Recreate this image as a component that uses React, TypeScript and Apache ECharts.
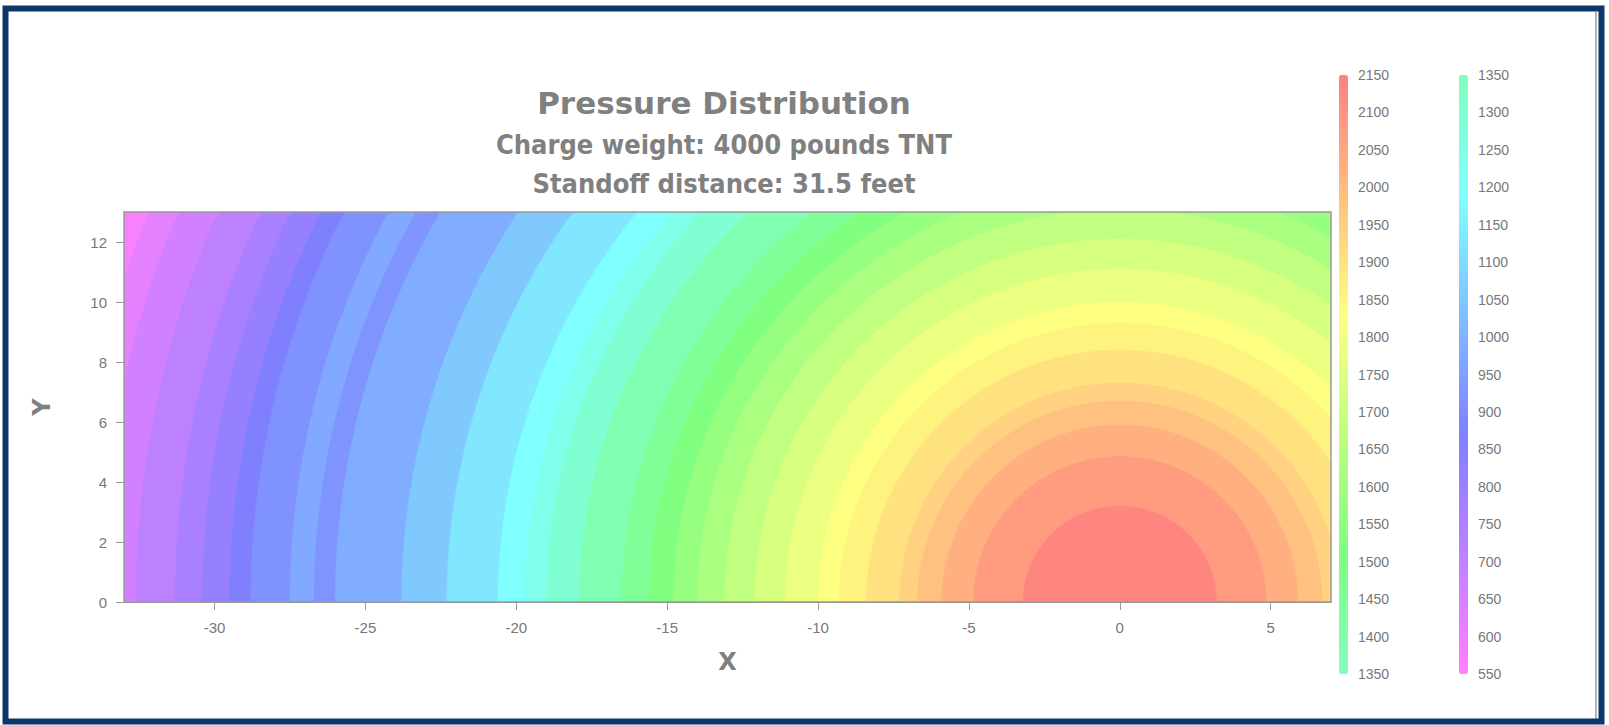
import React, { useEffect, useRef } from "react";
import * as echarts from "echarts";

// ---- data ----
const xRange = [-33, 7];
const yRange = [0, 13];
const xTicks = [-30, -25, -20, -15, -10, -5, 0, 5];
const yTicks = [0, 2, 4, 6, 8, 10, 12];

// contour bands: outer radius (feet from charge centre) and band pressure
const bandRadii = [
  36, 34.7, 33.8, 32.6, 31.3, 30.4, 29.5, 28.8, 27.5, 26.7, 26.0, 23.8, 22.3,
  20.6, 19.7, 19.0, 17.9, 16.5, 15.6, 14.8, 14.0, 13.1, 12.1, 11.1, 10.0, 9.3,
  8.4, 7.3, 6.7, 5.9, 4.85, 3.2,
];
const bandPressures = [
  565, 615, 665, 715, 765, 815, 870, 915, 975, 920, 985, 1055, 1130, 1190,
  1240, 1300, 1380, 1450, 1510, 1565, 1620, 1675, 1730, 1780, 1825, 1860, 1905,
  1945, 1985, 2030, 2080, 2135,
];

const highLegendTicks = [
  2150, 2100, 2050, 2000, 1950, 1900, 1850, 1800, 1750, 1700, 1650, 1600, 1550,
  1500, 1450, 1400, 1350,
];
const lowLegendTicks = [
  1350, 1300, 1250, 1200, 1150, 1100, 1050, 1000, 950, 900, 850, 800, 750, 700,
  650, 600, 550,
];
const highColors = ["#80FFBF", "#80FF80", "#BFFF80", "#FFFF80", "#FFBF80", "#FF8080"];
const lowColors = ["#FF80FF", "#BF80FF", "#8080FF", "#80BFFF", "#80FFFF", "#80FFBF"];
const splitValue = 1350;

const titleLines = [
  "Pressure Distribution",
  "Charge weight: 4000 pounds TNT",
  "Standoff distance: 31.5 feet",
];

// ---- layout ----
const GRID = { left: 124, top: 212, width: 1207, height: 390 };
const BAR = { top: 75, height: 599, width: 9, leftHigh: 1339, leftLow: 1459 };
const TEXT_GRAY = "#787878";
const LABEL_FONT = "'Liberation Sans', Arial, sans-serif";
const TITLE_FONT = "'DejaVu Sans', Verdana, sans-serif";
const SUB_FONT = "'DejaVu Sans Condensed', 'DejaVu Sans', sans-serif";

function renderBand(params: any, api: any) {
  const r = api.value(0);
  const pts: number[][] = [];
  for (let a = 0; a <= 180; a += 1) {
    const t = (a * Math.PI) / 180;
    const x = Math.min(Math.max(r * Math.cos(t), xRange[0]), xRange[1]);
    const y = Math.min(Math.max(r * Math.sin(t), yRange[0]), yRange[1]);
    pts.push(api.coord([x, y]));
  }
  const c = api.visual("color");
  return {
    type: "polygon",
    shape: { points: pts },
    style: { fill: c, stroke: c, lineWidth: 0.5 },
  };
}

export default function App() {
  const ref = useRef<HTMLDivElement>(null);

  useEffect(() => {
    document.body.style.margin = "0";
    if (!ref.current) return;
    const chart = echarts.init(ref.current, undefined, { renderer: "svg" });

    const bands = bandRadii.map((r, i) => [r, bandPressures[i]]);
    const lowData = bands.filter((b) => b[1] < splitValue);
    const highData = bands.filter((b) => b[1] >= splitValue);

    const step = BAR.height / (highLegendTicks.length - 1);
    const legendTexts: any[] = [];
    const addLegend = (ticks: number[], left: number) =>
      ticks.forEach((v, i) =>
        legendTexts.push({
          type: "text",
          x: left + 19,
          y: BAR.top + i * step,
          style: {
            text: String(v),
            fill: TEXT_GRAY,
            font: `14px ${LABEL_FONT}`,
            verticalAlign: "middle",
            align: "left",
          },
        })
      );
    addLegend(highLegendTicks, BAR.leftHigh);
    addLegend(lowLegendTicks, BAR.leftLow);

    const titleY = [103, 144, 183];
    const titleFont = [
      `bold 31px ${TITLE_FONT}`,
      `bold 27px ${SUB_FONT}`,
      `bold 27px ${SUB_FONT}`,
    ];
    const titleTexts = titleLines.map((t, i) => ({
      type: "text",
      x: 724,
      y: titleY[i],
      style: {
        text: t,
        fill: "#808080",
        font: titleFont[i],
        align: "center",
        verticalAlign: "middle",
      },
    }));

    chart.setOption({
      animation: false,
      backgroundColor: "#ffffff",
      grid: { ...GRID, containLabel: false },
      xAxis: {
        type: "value",
        min: xRange[0],
        max: xRange[1],
        name: "X",
        nameLocation: "middle",
        nameGap: 48,
        nameTextStyle: {
          color: "#808080",
          fontSize: 24,
          fontWeight: "bold",
          fontFamily: TITLE_FONT,
        },
        axisLine: { show: true, onZero: false, lineStyle: { color: "#999" } },
        axisTick: {
          show: true,
          length: 8,
          customValues: xTicks,
          lineStyle: { color: "#999" },
        },
        axisLabel: {
          customValues: xTicks,
          color: TEXT_GRAY,
          fontSize: 15,
          fontFamily: LABEL_FONT,
          margin: 18,
        },
        splitLine: { show: false },
      },
      yAxis: {
        type: "value",
        min: yRange[0],
        max: yRange[1],
        name: "Y",
        nameLocation: "middle",
        nameRotate: 90,
        nameGap: 70,
        nameTextStyle: {
          color: "#808080",
          fontSize: 24,
          fontWeight: "bold",
          fontFamily: TITLE_FONT,
        },
        axisLine: { show: true, onZero: false, lineStyle: { color: "#999" } },
        axisTick: {
          show: true,
          length: 8,
          customValues: yTicks,
          lineStyle: { color: "#999" },
        },
        axisLabel: {
          customValues: yTicks,
          color: TEXT_GRAY,
          fontSize: 15,
          fontFamily: LABEL_FONT,
          margin: 17,
        },
        splitLine: { show: false },
      },
      visualMap: [
        {
          type: "continuous",
          seriesIndex: 1,
          dimension: 1,
          min: splitValue,
          max: highLegendTicks[0],
          calculable: false,
          hoverLink: false,
          left: BAR.leftHigh,
          top: BAR.top,
          itemWidth: BAR.width,
          itemHeight: BAR.height,
          padding: 0,
          inRange: { color: highColors },
        },
        {
          type: "continuous",
          seriesIndex: 0,
          dimension: 1,
          min: lowLegendTicks[lowLegendTicks.length - 1],
          max: splitValue,
          calculable: false,
          hoverLink: false,
          left: BAR.leftLow,
          top: BAR.top,
          itemWidth: BAR.width,
          itemHeight: BAR.height,
          padding: 0,
          inRange: { color: lowColors },
        },
      ],
      series: [
        {
          type: "custom",
          name: "low",
          renderItem: renderBand,
          data: lowData,
          clip: true,
          silent: true,
        },
        {
          type: "custom",
          name: "high",
          renderItem: renderBand,
          data: highData,
          clip: true,
          silent: true,
        },
      ],
      graphic: [
        ...titleTexts,
        ...legendTexts,
        {
          type: "rect",
          z: 100,
          silent: true,
          shape: { x: GRID.left, y: GRID.top, width: GRID.width, height: GRID.height },
          style: { fill: "none", stroke: "#999", lineWidth: 1.5 },
        },
        {
          type: "line",
          z: 100,
          silent: true,
          shape: { x1: 1596, y1: 12, x2: 1596, y2: 719 },
          style: { stroke: "#b5b5b5", lineWidth: 2 },
        },
        {
          type: "rect",
          z: 101,
          silent: true,
          shape: { x: 5.5, y: 8.5, width: 1596, height: 713 },
          style: { fill: "none", stroke: "#0b3868", lineWidth: 6 },
        },
      ],
    });

    return () => chart.dispose();
  }, []);

  return <div ref={ref} style={{ width: 1609, height: 725 }} />;
}
